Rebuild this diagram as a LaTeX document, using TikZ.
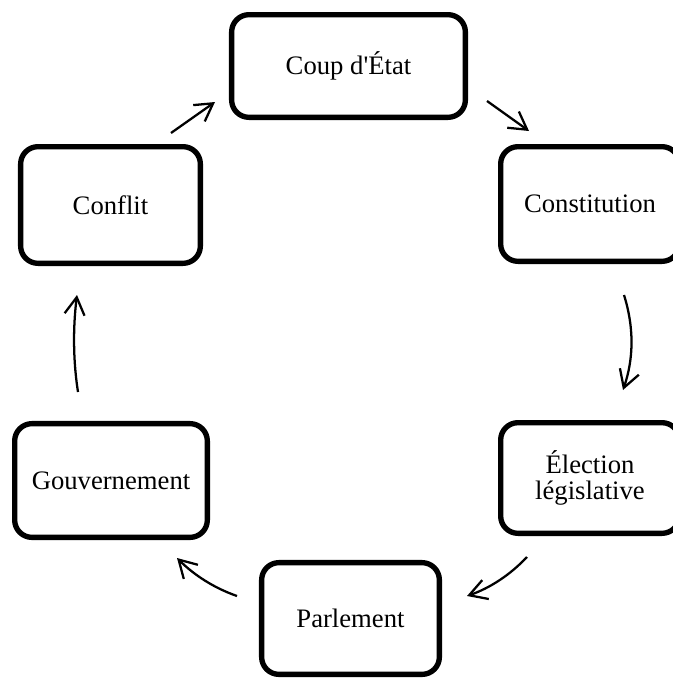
\documentclass[tikz,border=0pt]{standalone}
\usepackage{fontspec}
\setmainfont{Liberation Serif}
\usetikzlibrary{arrows.meta}
\begin{document}
\begin{tikzpicture}[x=0.75pt,y=-0.75pt,
  stage/.style={draw=black, line width=4pt, rounded corners=13pt, fill=white,
    align=center, inner sep=0pt, font=\fontsize{20}{19}\selectfont},
  flow/.style={line width=1.7pt,
    -{Straight Barb[length=13pt,width=15pt,line width=1.7pt]}}]
\useasboundingbox (0,0) rectangle (673,678);
\clip (0,0) rectangle (673,678);

% stages of the cycle
\node[stage, minimum width=175.3pt, minimum height=77pt]   (coup)  at (348.5,66)  {Coup d\textquotesingle État};
\node[stage, minimum width=134pt,   minimum height=86pt]   (const) at (590,204)   {Constitution};
\node[stage, minimum width=134pt,   minimum height=83pt]   (elec)  at (590,478)   {Élection\\législative};
\node[stage, minimum width=133.3pt, minimum height=83.8pt] (parl)  at (350.5,618.5) {Parlement};
\node[stage, minimum width=144.5pt, minimum height=85.3pt] (gouv)  at (111,480.5) {Gouvernement};
\node[stage, minimum width=134.8pt, minimum height=87.5pt] (confl) at (110.5,205) {Conflit};

% arrow end points
\coordinate (a1s) at (171,133);  \coordinate (a1e) at (215,102);
\coordinate (a2s) at (487,101);  \coordinate (a2e) at (529,131);
\coordinate (a3s) at (624,295);  \coordinate (a3e) at (623,390);
\coordinate (a4s) at (527,557);  \coordinate (a4e) at (467,596);
\coordinate (a5s) at (237,596);  \coordinate (a5e) at (177,558);
\coordinate (a6s) at (78,392);   \coordinate (a6e) at (77,295);

% arrows around the cycle
\draw[flow] (a1s) -- (a1e);
\draw[flow] (a2s) -- (a2e);
\draw[flow] (a3s) .. controls (634,327) and (634,358) .. (a3e);
\draw[flow] (a4s) .. controls (510,575) and (490,588) .. (a4e);
\draw[flow] (a5s) .. controls (214,588) and (194,575) .. (a5e);
\draw[flow] (a6s) .. controls (73,360) and (73,327) .. (a6e);
\end{tikzpicture}
\end{document}
